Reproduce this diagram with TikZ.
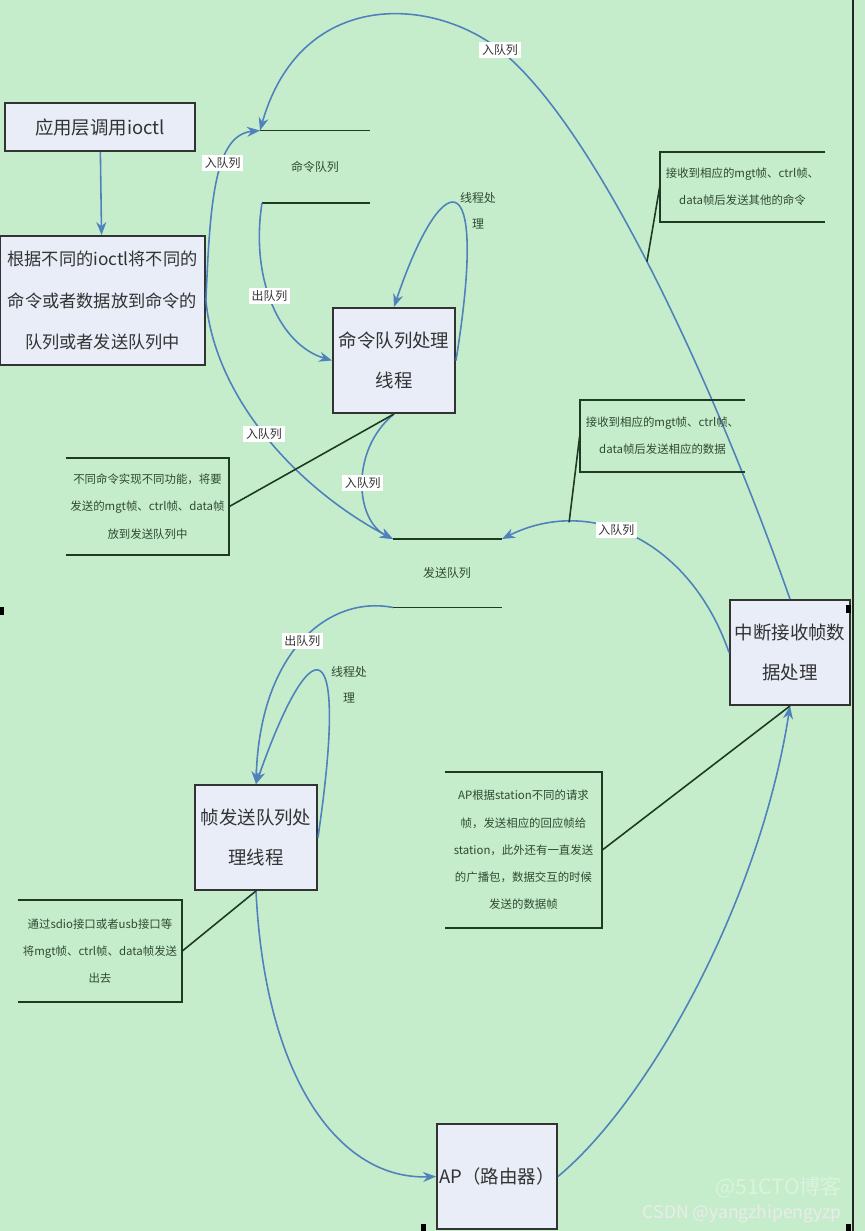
\documentclass[tikz,border=0pt]{standalone}
\usepackage{fontspec}
\setmainfont{Noto Sans CJK SC}
\usepackage{tikz}
\usetikzlibrary{arrows.meta}
\usepackage{xcolor}
\definecolor{bgGreen}{HTML}{C6EDCB}
\definecolor{boxFill}{HTML}{E8EDF8}
\definecolor{flowBlue}{HTML}{4F81BD}
\definecolor{noteInk}{HTML}{2F4A33}
\definecolor{calloutInk}{HTML}{1E3A22}

\begin{document}
\begin{tikzpicture}[
  x=0.02cm, y=-0.02cm,
  proc/.style={draw=black!80, line width=1.1pt, fill=boxFill, align=center,
               text=black!80, inner sep=0pt, minimum width=2.44cm,
               minimum height=2.1cm, font=\fontsize{10.5}{23}\selectfont},
  note/.style={align=center, text=noteInk, inner sep=0pt,
               font=\fontsize{6.5}{15.5}\selectfont},
  tag/.style={fill=white, inner sep=1.5pt, text=black!80,
              font=\fontsize{6.8}{8}\selectfont},
  qname/.style={align=center, text=noteInk, font=\fontsize{6.8}{15}\selectfont},
  flow/.style={draw=flowBlue, line width=0.9pt, -{Stealth[length=2.6mm, width=2mm]}},
  callout/.style={draw=calloutInk, line width=0.9pt},
  bracket/.style={draw=calloutInk, line width=1pt},
  qline/.style={draw=calloutInk, line width=1.1pt},
]
  \fill[bgGreen] (0,0) rectangle (865,1231);
  \useasboundingbox (0,0) rectangle (865,1231);

  \node[proc, minimum width=3.8cm, minimum height=0.96cm] (app) at (100,127) {应用层调用ioctl};
  \node[proc, minimum width=4.1cm, minimum height=2.58cm, font=\fontsize{9.8}{23.5}\selectfont]
    (ioctl) at (102.5,300.5) {根据不同的ioctl将不同的\\命令或者数据放到命令的\\队列或者发送队列中};
  \node[proc] (cmd) at (394,360.5) {命令队列处理\\线程};
  \node[proc, minimum width=2.4cm] (int) at (790,652.5) {中断接收帧数\\据处理};
  \node[proc] (snd) at (256,837.5) {帧发送队列处\\理线程};
  \node[proc, minimum width=2.4cm] (ap) at (497,1176.5) {AP（路由器）};

  % queues
  \coordinate (cq-tl) at (260,130.5); \coordinate (cq-tr) at (370,130.5);
  \coordinate (cq-bl) at (262,203);   \coordinate (cq-br) at (370,203);
  \coordinate (sq-tl) at (393,539);   \coordinate (sq-tr) at (502,539);
  \coordinate (sq-bl) at (393,607.5); \coordinate (sq-br) at (502,607.5);
  \draw[qline] (cq-tl) -- (cq-tr);
  \draw[qline] (cq-bl) -- (cq-br);
  \draw[qline] (sq-tl) -- (sq-tr);
  \draw[qline] (sq-bl) -- (sq-br);
  \node[qname] (cqname) at (315,167) {命令队列};
  \node[qname] (sqname) at (447,573) {发送队列};

  \draw[flow] (app) -- (ioctl);
  \draw[flow] (ioctl.east) .. controls (210,200) and (215,135) .. (cq-tl)
    node[tag, pos=0.6] {入队列};
  \draw[flow] (int.north) .. controls (720,400) and (600,130) .. (500,50)
    coordinate[pos=0.53] (k1) node[tag] {入队列}
    .. controls (430,-5) and (300,-10) .. (cq-tl);
  \draw[flow] (cq-bl) .. controls (250,280) and (280,345) .. (cmd.west)
    node[tag, pos=0.45] {出队列};
  \draw[flow] (cmd.east) .. controls (490,150) and (440,170) .. (cmd.north);
  \node[qname] (loopA) at (478,211) {线程处\\理};
  \draw[flow] (ioctl.east) .. controls (215,400) and (300,490) .. (sq-tl)
    node[tag, pos=0.48] {入队列};
  \draw[flow] (cmd.south) .. controls (350,450) and (355,520) .. (sq-tl)
    node[tag, pos=0.5] {入队列};
  \draw[flow] (int.west) .. controls (690,540) and (590,495) .. (sq-tr)
    coordinate[pos=0.75] (k2) node[tag, pos=0.57] {入队列};
  \draw[flow] (sq-bl) .. controls (330,595) and (260,650) .. (snd.north)
    node[tag, pos=0.5] {出队列};
  \draw[flow] (snd.east) .. controls (350,620) and (310,630) .. (snd.north);
  \node[qname] (loopB) at (349,685) {线程处\\理};
  \draw[flow] (snd.south) .. controls (265,1080) and (340,1180) .. (ap.west);
  \draw[flow] (ap.east) .. controls (650,1100) and (760,900) .. (int.south);

  % annotations
  \node[note, minimum width=3.3cm, minimum height=1.4cm] (note1) at (742.5,187)
    {接收到相应的mgt帧、ctrl帧、\\data帧后发送其他的命令};
  \node[note, minimum width=3.3cm, minimum height=1.42cm] (note2) at (662.5,436)
    {接收到相应的mgt帧、ctrl帧、\\data帧后发送相应的数据};
  \node[note, minimum width=3.26cm, minimum height=1.94cm] (note3) at (147.5,506.5)
    {不同命令实现不同功能，将要\\发送的mgt帧、ctrl帧、data帧\\放到发送队列中};
  \node[note, minimum width=3.28cm, minimum height=2.02cm] (note4) at (100,951)
    {通过sdio接口或者usb接口等\\将mgt帧、ctrl帧、data帧发送\\出去};
  \node[note, minimum width=3.14cm, minimum height=3.12cm] (note5) at (523.5,850)
    {AP根据station不同的请求\\帧，发送相应的回应帧给\\station，此外还有一直发送\\的广播包，数据交互的时候\\发送的数据帧};
  \foreach \n in {note1,note2}
    \draw[bracket] (\n.north east) -- (\n.north west) -- (\n.south west) -- (\n.south east);
  \foreach \n in {note3,note4,note5}
    \draw[bracket] (\n.north west) -- (\n.north east) -- (\n.south east) -- (\n.south west);
  \draw[callout] (note1.west) -- (k1);
  \draw[callout] (note2.west) -- (k2);
  \draw[callout] (note3.east) -- (cmd.south);
  \draw[callout] (note4.east) -- (snd.south);
  \draw[callout] (note5.east) -- (int.south);

  % page edge and marks
  \draw[black!85, line width=1pt] (853,0) -- (853,1231);
  \fill[black] (0,607) rectangle (4,615);
  \fill[black] (846,605) rectangle (851,613);
  \fill[black] (421,1224) rectangle (426,1231);
  \fill[black] (846,1224) rectangle (851,1231);

  \node[text=white, opacity=0.35, font=\fontsize{12}{12}\selectfont, anchor=east]
    (wmA) at (848,1187) {@51CTO博客};
  \node[text=white!92!black, font=\fontsize{10}{10}\selectfont, anchor=east]
    (wmB) at (848,1214) {CSDN @yangzhipengyzp};
\end{tikzpicture}
\end{document}
